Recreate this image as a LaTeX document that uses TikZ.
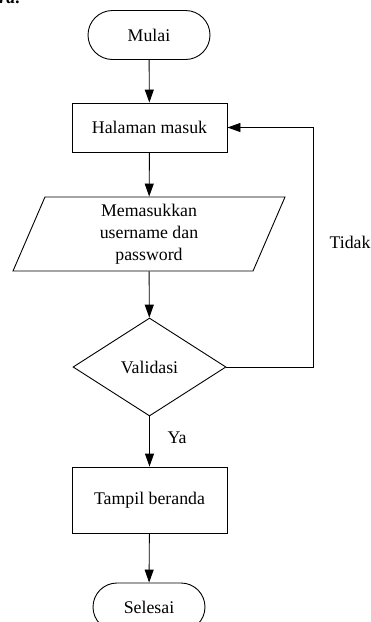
\documentclass[tikz,border=0pt]{standalone}
\usepackage{fontspec}
\setmainfont{Liberation Serif}
\usetikzlibrary{arrows.meta,shapes.geometric,shapes.misc}
\begin{document}
\begin{tikzpicture}[x=1pt,y=-1pt,
  font=\fontsize{17.8}{22}\selectfont,
  line width=0.9pt,
  every node/.style={align=center},
  terminal/.style={draw,rounded rectangle,minimum width=#1,minimum height=49pt,inner sep=0pt},
  process/.style={draw,rectangle,minimum width=155pt,inner sep=0pt},
  io/.style={draw,trapezium,trapezium left angle=62,trapezium right angle=118,
    trapezium stretches body,minimum width=272pt,minimum height=74pt,inner sep=0pt},
  decision/.style={draw,diamond,aspect=1.56,minimum width=153pt,minimum height=98pt,inner sep=0pt},
  flow/.style={-{Triangle[width=9pt,length=13pt]}}]
  \useasboundingbox (0,0) rectangle (371,622);
  \begin{scope}
    \clip (0,0) rectangle (371,622);
    % heading fragment at the upper edge
    \node[anchor=base west,inner sep=0pt,font=\fontsize{17.8}{22}\selectfont\bfseries\itshape] (head) at (-1,3.5) {ra:};
    \node[terminal=122pt] (mulai) at (149,35) {Mulai};
    \node[process,minimum height=49pt] (halaman) at (149.5,127.5) {Halaman masuk};
    \node[io] (input) at (149,234) {Memasukkan\\username dan\\password};
    \node[decision] (validasi) at (149.5,367) {Validasi};
    \node[process,minimum height=66pt] (tampil) at (149.5,500) {Tampil beranda};
    \node[terminal=112pt,minimum height=48pt] (selesai) at (149,607) {Selesai};
    \coordinate (loop) at (313,127.5);

    \draw[flow] (mulai) -- (halaman);
    \draw[flow] (halaman) -- (input);
    \draw[flow] (input) -- (validasi);
    \draw[flow] (validasi) -- (tampil);
    \draw[flow] (tampil) -- (selesai);
    \draw[flow] (validasi.east) -| (loop) -- (halaman.east);

    \node (tidak) at (350,242) {Tidak};
    \node (ya) at (177,438) {Ya};
  \end{scope}
\end{tikzpicture}
\end{document}
